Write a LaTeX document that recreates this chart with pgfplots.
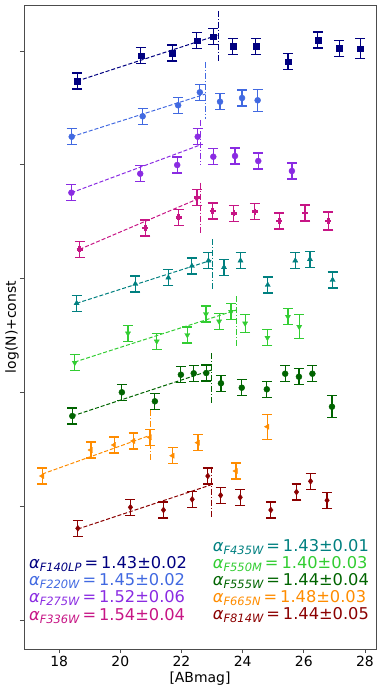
\documentclass[border=0pt]{standalone}
\usepackage{fontspec}
\setmainfont{DejaVu Sans}
\usepackage{pgfplots}
\pgfplotsset{compat=1.18}
\definecolor{cNavy}{RGB}{0,0,128}
\definecolor{cRoyal}{RGB}{65,105,225}
\definecolor{cViolet}{RGB}{138,43,226}
\definecolor{cMVR}{RGB}{199,21,133}
\definecolor{cTeal}{RGB}{0,128,128}
\definecolor{cLime}{RGB}{50,205,50}
\definecolor{cDGreen}{RGB}{0,100,0}
\definecolor{cOrange}{RGB}{255,140,0}
\definecolor{cDRed}{RGB}{139,0,0}
\pgfplotsset{
  grp/.style={color=#1, draw=#1, fill=#1, only marks, mark size=3pt,
    error bars/y dir=both, error bars/y explicit,
    error bars/error bar style={line width=1.2pt, draw=#1},
    error bars/error mark=-,
    error bars/error mark options={rotate=90, line width=1.2pt, mark size=5pt, draw=#1}},
  fit/.style={#1, line width=1pt, dash pattern=on 4pt off 2pt, no marks},
  brk/.style={#1, line width=1pt, dash pattern=on 6pt off 2pt on 1pt off 2pt, no marks},
}
\tikzset{lab/.style={anchor=west, inner sep=0pt, font=\fontsize{16.3}{18}\selectfont}}
\newcommand{\alab}[2]{{\itshape α}\raisebox{-0.35ex}{\fontsize{11.5}{12}\selectfont\itshape #1}\hspace{3pt}=\hspace{3pt}#2}

\begin{document}
\begin{tikzpicture}
\useasboundingbox (0,0) rectangle (382bp,694bp);
\begin{axis}[
  scale only axis, width=352bp, height=644bp,
  at={(24bp,45bp)}, anchor=south west,
  xmin=16.85, xmax=28.36, ymin=5, ymax=649, y dir=reverse,
  xtick={18,20,...,28},
  ytick={51,164.3,278.3,392.7,506,620}, yticklabels={},
  tick align=outside, tick pos=left, major tick length=4bp,
  axis line style={black!70}, every tick/.style={black!70, line width=0.8pt},
  xlabel={[ABmag]}, ylabel={log(N)+const},
  x label style={at={(axis description cs:0.5,-0.0466)}, anchor=center},
  y label style={at={(axis description cs:-0.034,0.5)}, anchor=center},
  ticklabel style={font=\fontsize{14}{16}\selectfont},
  label style={font=\fontsize{14}{16}\selectfont},
  /pgf/number format/assume math mode=true,
  clip=false,
]
% F140LP
\addplot[fit=cNavy] coordinates {(18.59,81) (23.2,35)};
\addplot[brk=cNavy] coordinates {(23.21,11) (23.21,62)};
\addplot[grp=cNavy, mark=square*] table[y error=e] {
x y e
18.59 81 8
20.67 55.7 8
21.70 53 8
22.50 40.7 8
23.04 36.7 8
23.68 46.3 8
24.43 46.3 8
25.48 61.7 8
26.46 40 8
27.16 48.3 8
27.84 48.7 10
};
% F220W
\addplot[fit=cRoyal] coordinates {(18.41,136.7) (22.79,94)};
\addplot[brk=cRoyal] coordinates {(22.79,62) (22.79,119)};
\addplot[grp=cRoyal, mark=*] table[y error=e] {
x y e
18.41 136.7 8
20.73 116.3 8
21.89 105.3 8
22.60 92.3 8
23.26 101.7 8
23.98 98 8
24.49 100.3 11
};
% F275W
\addplot[fit=cViolet] coordinates {(18.40,192.7) (22.61,145)};
\addplot[brk=cViolet] coordinates {(22.61,120) (22.61,165)};
\addplot[grp=cViolet, mark=*] table[y error=e] {
x y e
18.40 192.7 8
20.65 173.7 8
21.86 165 8
22.53 136.7 8
23.04 156.7 8
23.75 156 8
24.51 161 8
25.61 171 8
};
% F336W
\addplot[fit=cMVR] coordinates {(18.67,249.3) (22.6,198)};
\addplot[brk=cMVR] coordinates {(22.61,182.7) (22.61,233.3)};
\addplot[grp=cMVR, mark=+, mark options={line width=2.6pt}] table[y error=e] {
x y e
18.67 249.3 8
20.82 228 8
21.91 217.3 8
22.51 197.7 8
23.02 211 8
23.71 213.3 8
24.40 211.7 8
25.20 221 8
26.04 213 8
26.80 221 9
};
% F435W
\addplot[fit=cTeal] coordinates {(18.57,303.3) (23.0,260)};
\addplot[brk=cTeal] coordinates {(23.0,239) (23.0,290.7)};
\addplot[grp=cTeal, mark=triangle*] table[y error=e] {
x y e
18.57 303.3 8
20.49 284 8
21.57 277.7 8
22.34 266 8
22.88 260.7 8
23.39 267.3 8
23.93 260.7 8
24.82 285 8
25.72 260.7 8
26.20 259.3 8
26.94 280 8
};
% F550M
\addplot[fit=cLime] coordinates {(18.51,362) (23.8,310)};
\addplot[brk=cLime] coordinates {(23.81,296) (23.81,346.7)};
\addplot[grp=cLime, mark=triangle*, mark options={rotate=180}] table[y error=e] {
x y e
18.51 362.7 8
20.25 333.3 8
21.19 341.3 8
22.19 335 8
22.80 314 8
23.23 321.3 8
23.62 311.7 8
24.08 323.3 9
24.81 337.7 8
25.48 316.7 8
25.85 326.7 12
};
% F555W
\addplot[fit=cDGreen] coordinates {(18.43,416) (22.99,370)};
\addplot[brk=cDGreen] coordinates {(22.99,353) (22.99,404)};
\addplot[grp=cDGreen, mark=*] table[y error=e] {
x y e
18.43 416 8
20.05 392.3 8
21.13 401.3 8
21.98 374.7 8
22.40 373.3 8
22.81 373 8
23.29 383.3 8
23.97 387.7 8
24.79 389.3 8
25.39 373.7 8
25.84 376.7 8
26.28 373.7 8
26.92 406.7 11
};
% F665N
\addplot[fit=cOrange] coordinates {(17.45,474) (21.0,435)};
\addplot[brk=cOrange] coordinates {(21.0,410) (21.0,460)};
\addplot[grp=cOrange, mark=triangle*, mark options={rotate=90}] table[y error=e] {
x y e
17.45 476 8
19.04 450 8
19.80 445 8
20.43 441 8
20.97 437.3 8
21.71 455.7 8
22.54 442.7 8
23.78 471 8
24.81 426.7 12.5
};
% F814W
\addplot[fit=cDRed] coordinates {(18.61,529) (22.95,485)};
\addplot[brk=cDRed] coordinates {(22.99,466.7) (22.99,518)};
\addplot[grp=cDRed, mark=diamond*] table[y error=e] {
x y e
18.61 528.3 8
20.33 507.3 8
21.41 510 8
22.35 499.3 8
22.86 476 8
23.28 495.3 8
23.92 497.3 8
24.92 510 8
25.76 492 8
26.22 481.3 8
26.76 500.3 8
};
% slope labels
\node[lab, text=cNavy]   at (axis cs:17.01,564.3) {\alab{F140LP}{1.43±0.02}};
\node[lab, text=cRoyal]  at (axis cs:17.01,581)   {\alab{F220W}{1.45±0.02}};
\node[lab, text=cViolet] at (axis cs:17.01,598.3) {\alab{F275W}{1.52±0.06}};
\node[lab, text=cMVR]    at (axis cs:17.01,615.7) {\alab{F336W}{1.54±0.04}};
\node[lab, text=cTeal]   at (axis cs:23.02,546.7) {\alab{F435W}{1.43±0.01}};
\node[lab, text=cLime]   at (axis cs:23.02,563.7) {\alab{F550M}{1.40±0.03}};
\node[lab, text=cDGreen] at (axis cs:23.02,581)   {\alab{F555W}{1.44±0.04}};
\node[lab, text=cOrange] at (axis cs:23.02,597.7) {\alab{F665N}{1.48±0.03}};
\node[lab, text=cDRed]   at (axis cs:23.02,615)   {\alab{F814W}{1.44±0.05}};
\end{axis}
\end{tikzpicture}
\end{document}
